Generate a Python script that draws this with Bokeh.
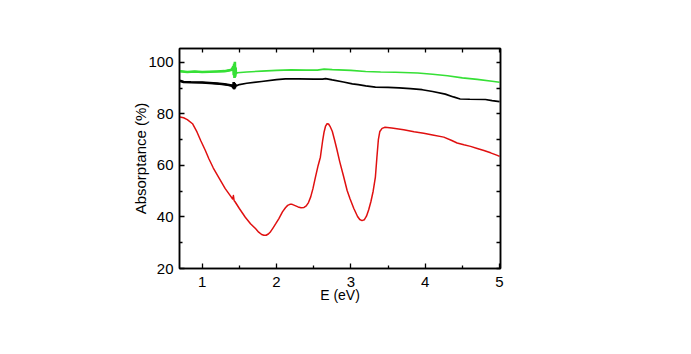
from bokeh.plotting import figure
from bokeh.models import FixedTicker, LinearAxis, Range1d
from bokeh.embed import file_html
from bokeh.resources import INLINE

# ---- data ----
red_x = [0.70, 0.75, 0.80, 0.87, 0.93, 0.98, 1.04, 1.09, 1.15, 1.22, 1.31, 1.38, 1.41,
         1.42, 1.43, 1.44, 1.50, 1.58, 1.65, 1.72, 1.76, 1.80, 1.83, 1.86, 1.89, 1.92,
         1.95, 1.99, 2.03, 2.08, 2.12, 2.15, 2.18, 2.21, 2.25, 2.29, 2.33, 2.37, 2.40,
         2.43, 2.46, 2.49, 2.52, 2.56, 2.59, 2.62, 2.64, 2.66, 2.68, 2.70, 2.72, 2.75,
         2.78, 2.81, 2.85, 2.90, 2.95, 2.99, 3.04, 3.09, 3.12, 3.15, 3.18, 3.21, 3.24,
         3.27, 3.30, 3.33, 3.35, 3.37, 3.39, 3.42, 3.46, 3.55, 3.71, 3.85, 3.98, 4.10,
         4.25, 4.35, 4.43, 4.52, 4.61, 4.70, 4.79, 4.88, 4.97, 5.00]
red_y = [78.8, 78.5, 77.8, 76.2, 73.0, 69.7, 66.0, 62.6, 59.0, 55.5, 51.0, 48.2, 47.0,
         48.3, 46.3, 46.0, 43.3, 39.9, 37.4, 35.4, 34.1, 33.2, 32.9, 32.9, 33.4, 34.3,
         35.6, 37.4, 39.3, 42.0, 43.6, 44.5, 44.9, 44.9, 44.4, 43.9, 43.6, 43.7, 44.3,
         45.6, 47.8, 51.0, 55.0, 60.0, 63.2, 69.5, 73.0, 75.3, 76.2, 76.1, 75.2, 73.3,
         70.0, 66.5, 61.5, 56.0, 50.3, 47.0, 43.3, 40.2, 39.0, 38.6, 38.9, 40.3, 42.8,
         46.0, 50.0, 55.5, 63.0, 70.0, 73.2, 74.4, 74.8, 74.5, 73.9, 73.1, 72.5, 71.8,
         71.0, 69.8, 68.7, 68.0, 67.4, 66.6, 65.8, 64.9, 63.9, 63.5]

green_x = [0.70, 0.80, 0.90, 1.00, 1.10, 1.20, 1.30, 1.36, 1.40, 1.42, 1.425, 1.43, 1.435,
           1.44, 1.445, 1.45, 1.455, 1.47, 1.60, 1.80, 2.00, 2.20, 2.40, 2.55, 2.64, 2.75,
           3.00, 3.20, 3.40, 3.60, 3.90, 4.10, 4.30, 4.50, 4.70, 4.90, 5.00]
green_y = [96.6, 96.3, 96.5, 96.3, 96.4, 96.5, 96.6, 96.9, 97.2, 98.5, 95.0, 99.5, 94.0,
           100.2, 94.5, 98.0, 95.5, 96.0, 96.3, 96.6, 96.9, 97.1, 97.0, 97.0, 97.4, 97.2,
           96.9, 96.5, 96.3, 96.2, 95.9, 95.4, 94.8, 94.0, 93.4, 92.7, 92.3]

black_x = [0.70, 0.75, 0.85, 1.00, 1.10, 1.20, 1.30, 1.36, 1.40, 1.42, 1.425, 1.43, 1.435,
           1.44, 1.445, 1.45, 1.50, 1.60, 1.80, 2.00, 2.12, 2.30, 2.50, 2.62, 2.66, 2.75,
           2.90, 3.02, 3.10, 3.20, 3.33, 3.50, 3.65, 3.80, 3.96, 4.10, 4.27, 4.38, 4.47,
           4.60, 4.81, 4.90, 5.00]
black_y = [92.9, 92.4, 92.3, 92.2, 92.0, 91.8, 91.5, 91.2, 91.0, 90.2, 92.4, 89.6, 92.0,
           90.0, 91.5, 90.8, 91.4, 91.9, 92.6, 93.3, 93.6, 93.6, 93.5, 93.5, 93.7, 93.2,
           92.4, 91.7, 91.4, 90.9, 90.4, 90.3, 90.1, 89.8, 89.4, 88.7, 87.7, 86.6, 85.8,
           85.7, 85.6, 85.2, 84.8]

x_ticks = [1, 2, 3, 4, 5]
x_minor = [1.5, 2.5, 3.5, 4.5]
y_ticks = [20, 40, 60, 80, 100]
y_minor = [30, 50, 70, 90]

FONT = "Liberation Sans"

p = figure(width=691, height=354, x_range=Range1d(0.695, 5.013), y_range=Range1d(20, 105.4),
           output_backend="svg", toolbar_location=None,
           min_border_left=179, min_border_right=191, min_border_top=48, min_border_bottom=86)
p.background_fill_color = "white"
p.border_fill_color = "white"
p.outline_line_color = "black"
p.outline_line_width = 1.5
p.xgrid.visible = False
p.ygrid.visible = False

# noisy low-energy part drawn thicker
nG = sum(1 for v in green_x if v <= 1.455)
nB = sum(1 for v in black_x if v <= 1.45)
p.line(green_x[:nG], green_y[:nG], line_color="#36e036", line_width=2.6)
p.line(black_x[:nB], black_y[:nB], line_color="black", line_width=2.6)

p.line(green_x, green_y, line_color="#36e036", line_width=1.6)
p.line(black_x, black_y, line_color="black", line_width=1.7)
p.line(red_x, red_y, line_color="#e01010", line_width=1.5, line_join="round")


def style(ax, ticks, minor):
    ax.ticker = FixedTicker(ticks=ticks, minor_ticks=minor)
    ax.axis_line_color = "black"
    ax.axis_line_width = 1.5
    ax.major_tick_in = 5
    ax.major_tick_out = 0
    ax.minor_tick_in = 3
    ax.minor_tick_out = 0
    ax.major_tick_line_color = "black"
    ax.minor_tick_line_color = "black"
    ax.major_tick_line_width = 1.3
    ax.minor_tick_line_width = 1.3
    ax.major_label_text_font = FONT
    ax.major_label_text_font_size = "15px"
    ax.major_label_text_color = "black"
    ax.axis_label_text_font = FONT
    ax.axis_label_text_font_size = "15px"
    ax.axis_label_text_font_style = "normal"
    ax.axis_label_text_color = "black"


xa = p.xaxis[0]
ya = p.yaxis[0]
style(xa, x_ticks, x_minor)
style(ya, y_ticks, y_minor)
xa.axis_label = "E (eV)"
xa.axis_label_text_font_size = "14px"
xa.major_label_standoff = 8
xa.axis_label_standoff = -3
ya.axis_label = "Absorptance (%)"
ya.major_label_standoff = 6
ya.axis_label_standoff = -4

# mirror axes: tick marks only (no labels), all ticks drawn as minor ticks
top = LinearAxis()
right = LinearAxis()
style(top, [], sorted(x_ticks + x_minor))
style(right, [], sorted(y_ticks + y_minor))
for ax in (top, right):
    ax.minor_tick_in = 4
    ax.major_label_standoff = 0
p.add_layout(top, "above")
p.add_layout(right, "right")

open("out.html", "w").write(file_html(p, INLINE))
